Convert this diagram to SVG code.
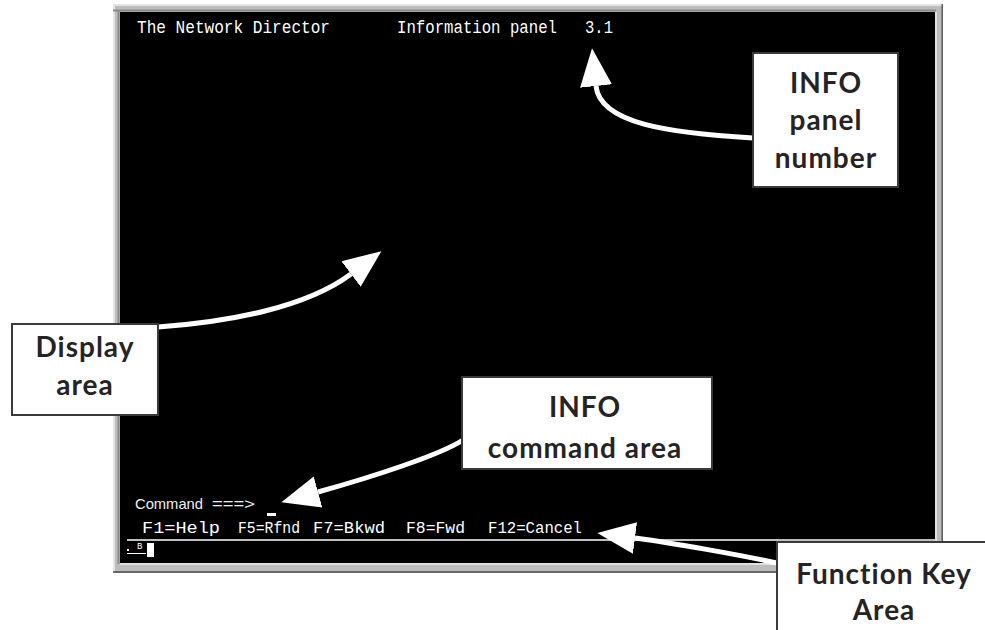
<svg xmlns="http://www.w3.org/2000/svg" width="985" height="630" viewBox="0 0 985 630">
  <style>
    .screen-text { font-family: "Liberation Mono", "DejaVu Sans Mono", monospace; fill: #ffffff; }
    .cmd-text { font-family: "Liberation Sans", Arial, sans-serif; font-size: 15px; fill: #f0f0f0; }
    .callout-box { fill: #ffffff; stroke: #3a3a3a; stroke-width: 2; }
    .callout-text { font-family: Lato, "Open Sans", sans-serif; font-weight: bold; font-size: 28px; letter-spacing: 1px; fill: #262324; text-anchor: middle; }
    .pointer { fill: none; stroke: #ffffff; stroke-width: 5; marker-end: url(#head); }
  </style>
  <defs>
    <marker id="head" markerUnits="userSpaceOnUse" markerWidth="40" markerHeight="36" refX="0" refY="17" orient="auto" viewBox="0 0 40 34">
      <path d="M0,1 L38,17 L0,33 z" fill="#ffffff"/>
    </marker>
  </defs>

  <rect width="985" height="630" fill="#ffffff"/>

  <!-- terminal window frame -->
  <g id="terminal">
    <rect x="113" y="4" width="830" height="569" fill="#bcbcbc"/>
    <line x1="113" y1="5" x2="943" y2="5" stroke="#e4e4e4" stroke-width="2"/>
    <line x1="114" y1="4" x2="114" y2="573" stroke="#e4e4e4" stroke-width="2"/>
    <line x1="113" y1="10.5" x2="936" y2="10.5" stroke="#8a8a8a" stroke-width="2"/>
    <line x1="118.5" y1="10" x2="118.5" y2="564" stroke="#8a8a8a" stroke-width="2"/>
    <line x1="120" y1="564" x2="936" y2="564" stroke="#e0e0e0" stroke-width="2"/>
    <line x1="936" y1="12" x2="936" y2="565" stroke="#e0e0e0" stroke-width="2"/>
    <line x1="113" y1="572" x2="943" y2="572" stroke="#4a4a4a" stroke-width="1.5"/>
    <line x1="942.2" y1="4" x2="942.2" y2="573" stroke="#5a5a5a" stroke-width="1.5"/>
    <rect x="120" y="12" width="815" height="551" fill="#000000"/>

    <!-- panel header -->
    <text class="screen-text" x="137" y="33" font-size="18" textLength="193" lengthAdjust="spacingAndGlyphs">The Network Director</text>
    <text class="screen-text" x="397" y="33" font-size="18" textLength="160" lengthAdjust="spacingAndGlyphs">Information panel</text>
    <text class="screen-text" x="585" y="33" font-size="18" textLength="28" lengthAdjust="spacingAndGlyphs">3.1</text>

    <!-- command line -->
    <text class="cmd-text" x="135" y="509" textLength="68" lengthAdjust="spacingAndGlyphs">Command</text>
    <text class="cmd-text" x="212" y="509" textLength="43" lengthAdjust="spacingAndGlyphs">===&gt;</text>
    <rect x="267" y="513" width="9" height="3" fill="#ffffff"/>

    <!-- function key line -->
    <text class="screen-text" x="142" y="533" font-size="16" textLength="78" lengthAdjust="spacingAndGlyphs">F1=Help</text>
    <text class="screen-text" x="238" y="533" font-size="16" textLength="62" lengthAdjust="spacingAndGlyphs">F5=Rfnd</text>
    <text class="screen-text" x="313" y="533" font-size="16" textLength="72" lengthAdjust="spacingAndGlyphs">F7=Bkwd</text>
    <text class="screen-text" x="406" y="533" font-size="16" textLength="59" lengthAdjust="spacingAndGlyphs">F8=Fwd</text>
    <text class="screen-text" x="488" y="533" font-size="16" textLength="94" lengthAdjust="spacingAndGlyphs">F12=Cancel</text>

    <!-- operator information area -->
    <line x1="127" y1="540" x2="935" y2="540" stroke="#ffffff" stroke-width="1.5"/>
    <text class="screen-text" x="137" y="549" font-size="9">B</text>
    <line x1="127" y1="553.5" x2="146" y2="553.5" stroke="#ffffff" stroke-width="1"/>
    <rect x="127" y="549" width="2" height="2" fill="#ffffff"/>
    <rect x="147" y="543" width="7" height="14" fill="#ffffff"/>
  </g>

  <!-- connectors -->
  <g id="connectors">
    <path class="pointer" d="M753,138 C670,133 600,124 596,86"/>
    <path class="pointer" d="M158,327 C230,322 307,307 351,274"/>
    <path class="pointer" d="M463,440 C440,455 372,477 318,492"/>
    <path class="pointer" d="M777,563 C740,555 673,543 635,538"/>
  </g>

  <g id="panel-number">
    <rect class="callout-box" x="753" y="53" width="145" height="134"/>
    <text class="callout-text" x="826" y="93">INFO</text>
    <text class="callout-text" x="826" y="130">panel</text>
    <text class="callout-text" x="826" y="168">number</text>
  </g>

  <g id="display-area">
    <rect class="callout-box" x="12" y="324" width="146" height="91" stroke-width="1.2"/>
    <text class="callout-text" x="85" y="357">Display</text>
    <text class="callout-text" x="85" y="395">area</text>
  </g>

  <g id="command-area">
    <rect class="callout-box" x="462" y="377" width="250" height="92"/>
    <text class="callout-text" x="585" y="417">INFO</text>
    <text class="callout-text" x="585" y="458">command area</text>
  </g>

  <g id="function-key-area">
    <rect class="callout-box" x="777" y="542" width="220" height="100" stroke-width="1.2"/>
    <text class="callout-text" x="884" y="584">Function Key</text>
    <text class="callout-text" x="884" y="620">Area</text>
  </g>
</svg>
